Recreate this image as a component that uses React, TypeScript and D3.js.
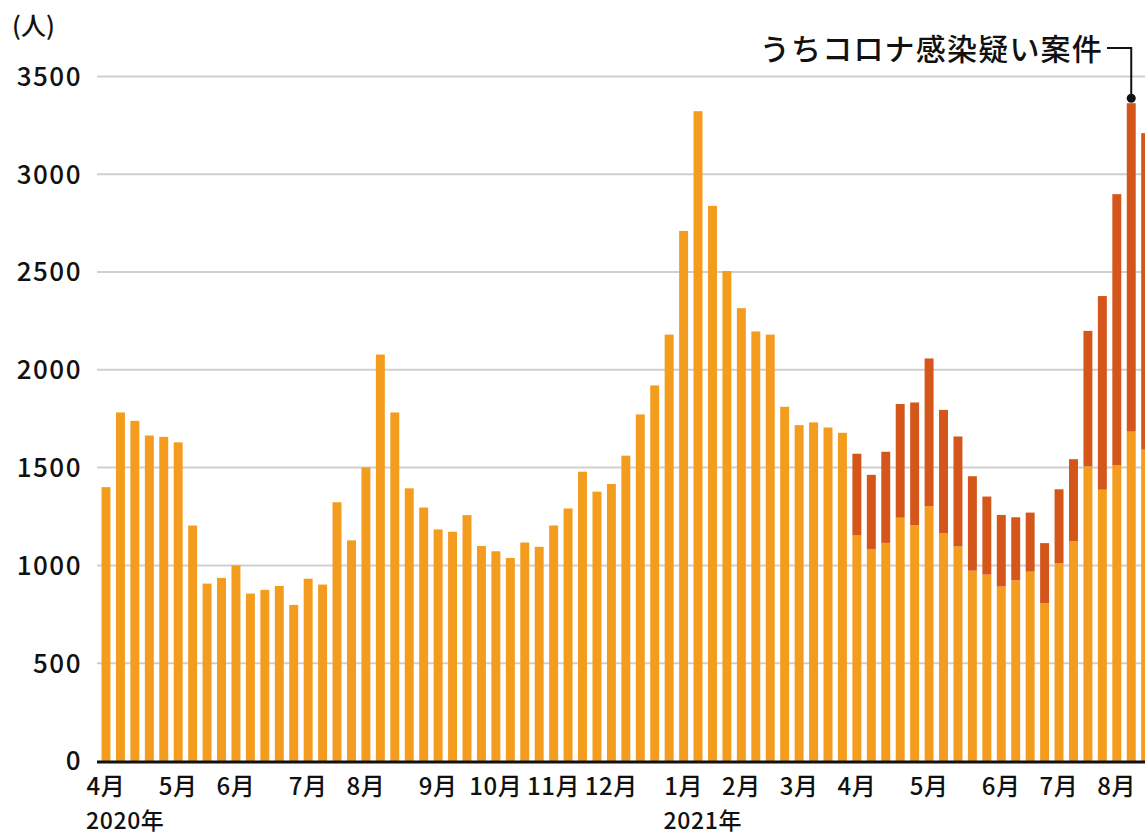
import React from 'react';
import * as d3 from 'd3';

// weekly counts, first week of April 2020 to August 2021
const confirmedPart = [
  1400, 1782, 1739, 1664, 1657, 1629, 1204, 907, 936, 1000, 856, 875, 895, 798, 932, 902,
  1323, 1128, 1501, 2078, 1782, 1394, 1296, 1184, 1172, 1257, 1099, 1072, 1038, 1117, 1095, 1204,
  1291, 1479, 1377, 1416, 1561, 1772, 1920, 2180, 2710, 3322, 2838, 2505, 2315, 2196, 2180, 1811,
  1717, 1731, 1705, 1678, 1153, 1084, 1115, 1244, 1206, 1303, 1164, 1097, 973, 953, 892, 924,
  968, 807, 1010, 1124, 1506, 1387, 1511, 1684, 1592,
];
// うちコロナ感染疑い案件
const suspectedPart = [
  0, 0, 0, 0, 0, 0, 0, 0, 0, 0, 0, 0, 0, 0, 0, 0,
  0, 0, 0, 0, 0, 0, 0, 0, 0, 0, 0, 0, 0, 0, 0, 0,
  0, 0, 0, 0, 0, 0, 0, 0, 0, 0, 0, 0, 0, 0, 0, 0,
  0, 0, 0, 0, 418, 379, 466, 581, 627, 755, 631, 562, 483, 399, 366, 322,
  302, 307, 379, 419, 693, 990, 1387, 1679, 1618,
];

const monthLabels = ['4月', '5月', '6月', '7月', '8月', '9月', '10月', '11月', '12月', '1月', '2月', '3月', '4月', '5月', '6月', '7月', '8月'];
const monthWeeks = [0, 5, 9, 14, 18, 23, 27, 31, 35, 40, 44, 48, 52, 57, 62, 66, 70];
const yearLabels = ['2020年', '2021年'];
const yearWeeks = [0, 40];
const yTicks = [0, 500, 1000, 1500, 2000, 2500, 3000, 3500];
const annotation = 'うちコロナ感染疑い案件';
const annotatedWeek = 71;

const W = 1145;
const H = 835;
const FONT = '"Noto Sans CJK JP", "Liberation Sans", sans-serif';

export default function App() {
  const rows = confirmedPart.map((v, i) => ({ week: i, confirmed: v, suspected: suspectedPart[i] }));
  const series = d3.stack<any>().keys(['confirmed', 'suspected'])(rows);
  const colors = ['#f39c1d', '#d4561a'];

  const step = 14.44;
  const x0 = 106 - step / 2;
  const x = d3
    .scaleBand<number>()
    .domain(rows.map((d) => d.week))
    .range([x0, x0 + step * rows.length])
    .paddingInner(0.38)
    .paddingOuter(0.19);
  const cx = (i: number) => (x(i) as number) + x.bandwidth() / 2;

  const y = d3.scaleLinear().domain([0, 3500]).range([761, 76.4]);

  const top = confirmedPart[annotatedWeek] + suspectedPart[annotatedWeek];

  return (
    <svg
      width={W}
      height={H}
      style={{ position: 'absolute', left: 0, top: 0, display: 'block', background: '#fff' }}
      fontFamily={FONT}
      fontWeight={500}
    >
      {/* grid */}
      {yTicks
        .filter((t) => t > 0)
        .map((t) => (
          <line key={t} x1={97} x2={W} y1={y(t)} y2={y(t)} stroke="#cfcfcf" strokeWidth={2} />
        ))}

      {/* bars */}
      {series.map((s, si) => (
        <g key={s.key} fill={colors[si]}>
          {s.map((d: any, i: number) =>
            d[1] - d[0] > 0 ? (
              <rect key={i} x={x(i)} width={x.bandwidth()} y={y(d[1])} height={y(d[0]) - y(d[1])} />
            ) : null
          )}
        </g>
      ))}

      {/* baseline */}
      <line x1={97} x2={W} y1={y(0) + 1} y2={y(0) + 1} stroke="#111" strokeWidth={3} />

      {/* y axis labels */}
      <text x={12} y={35} fontSize={25} fill="#111">(人)</text>
      {yTicks.map((t) => (
        <text key={t} x={82} y={y(t)} dy="0.36em" textAnchor="end" fontSize={26} letterSpacing={1.5} fill="#111">
          {t}
        </text>
      ))}

      {/* x axis labels */}
      {monthLabels.map((m, i) => (
        <text key={i} x={cx(monthWeeks[i])} y={795} textAnchor="middle" fontSize={24} letterSpacing={0.6} fill="#111">
          {m}
        </text>
      ))}
      {yearLabels.map((l, i) => (
        <text key={l} x={cx(yearWeeks[i]) - 20} y={829} fontSize={23} letterSpacing={0.6} fill="#111">
          {l}
        </text>
      ))}

      {/* annotation */}
      <text x={1103} y={60} textAnchor="end" fontSize={30} letterSpacing={1.2} fill="#111">
        {annotation}
      </text>
      <path
        d={`M1107,48H${cx(annotatedWeek)}V${y(top) - 5}`}
        fill="none"
        stroke="#111"
        strokeWidth={2}
      />
      <circle cx={cx(annotatedWeek)} cy={y(top) - 5} r={4.5} fill="#111" />
    </svg>
  );
}
